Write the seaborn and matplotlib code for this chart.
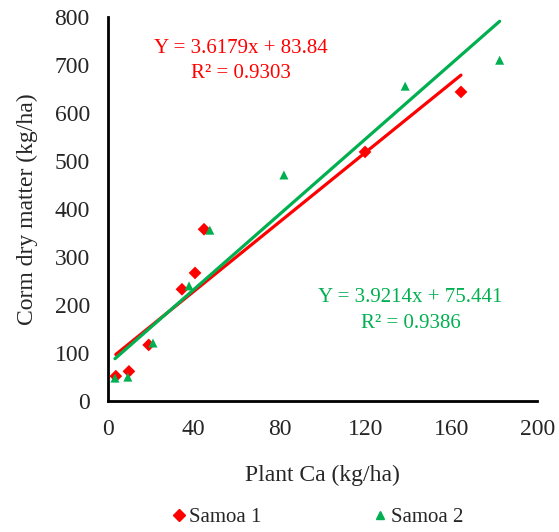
"""Corm dry matter vs plant Ca with linear fits for two cultivars."""

import numpy as np
import pandas as pd
import matplotlib
matplotlib.use("Agg")
import matplotlib.pyplot as plt
import seaborn as sns

# Samoa 1 (red diamonds)
ca_s1   = [3.7, 9.8, 19.0, 34.5, 40.6, 44.8, 119.8, 164.5]
corm_s1 = [52, 62, 117, 233, 267, 358, 519, 644]
# Samoa 2 (green triangles)
ca_s2   = [3.3, 9.3, 21.0, 37.8, 47.5, 82.0, 138.5, 182.5]
corm_s2 = [48, 50, 121, 240, 356, 471, 656, 710]

SERIES  = ["Samoa 1", "Samoa 2"]
SLOPES  = [3.6179, 3.9214]
INTERC  = [83.84, 75.441]
R2      = [0.9303, 0.9386]
EQ_TXT  = ["Y = 3.6179x + 83.84", "Y = 3.9214x + 75.441"]
COLORS  = {"Samoa 1": "#ff0000", "Samoa 2": "#00b050"}
MARKERS = {"Samoa 1": "D", "Samoa 2": "^"}

sns.set_style("white")
plt.rcParams["font.family"] = ["Liberation Serif", "DejaVu Serif"]

df = pd.DataFrame({
    "ca": ca_s1 + ca_s2,
    "corm": corm_s1 + corm_s2,
    "serie": ["Samoa 1"] * len(ca_s1) + ["Samoa 2"] * len(ca_s2),
})

fig = plt.figure(figsize=(5.59, 5.32), dpi=100)
ax = fig.add_axes([0.193, 0.246, 0.768, 0.722])

# fitted lines from the reported equations
fits = []
for name, m, b in zip(SERIES, SLOPES, INTERC):
    sub = df[df["serie"] == name]
    xs = np.array([sub["ca"].min(), sub["ca"].max()])
    fits.append(pd.DataFrame({"ca": xs, "corm": m * xs + b, "serie": name}))
fit_df = pd.concat(fits, ignore_index=True)
sns.lineplot(data=fit_df, x="ca", y="corm", hue="serie", palette=COLORS,
             linewidth=2.3, legend=False, ax=ax, zorder=2)

sns.scatterplot(data=df, x="ca", y="corm", hue="serie", style="serie",
                palette=COLORS, markers=MARKERS, s=42, edgecolor="none",
                legend=False, ax=ax, zorder=3)

ax.set_xlim(0, 200)
ax.set_ylim(0, 800)
ax.set_xticks(range(0, 201, 40))
ax.set_yticks(range(0, 801, 100))
ax.tick_params(axis="both", which="major", direction="out", length=7,
               width=1.8, labelsize=17, color="black", pad=6)
for side in ["top", "right"]:
    ax.spines[side].set_visible(False)
for side in ["left", "bottom"]:
    ax.spines[side].set_linewidth(2.0)
    ax.spines[side].set_color("black")
ax.set_xlabel("Plant Ca (kg/ha)", fontsize=17, labelpad=18)
ax.set_ylabel("Corm dry matter (kg/ha)", fontsize=17, labelpad=12)

ax.text(62, 735, EQ_TXT[0], color=COLORS["Samoa 1"], fontsize=15, ha="center", va="center")
ax.text(62, 683, f"R² = {R2[0]:.4f}", color=COLORS["Samoa 1"], fontsize=15, ha="center", va="center")
ax.text(141, 215, EQ_TXT[1], color=COLORS["Samoa 2"], fontsize=15, ha="center", va="center")
ax.text(141, 162, f"R² = {R2[1]:.4f}", color=COLORS["Samoa 2"], fontsize=15, ha="center", va="center")

handles = [plt.Line2D([], [], linestyle="none", marker=MARKERS[n], color=COLORS[n],
                      markersize=6) for n in SERIES]
fig.legend(handles, SERIES, loc="center", bbox_to_anchor=(0.565, 0.028), ncol=2,
           frameon=False, fontsize=15, handletextpad=0.0, columnspacing=5.2,
           handlelength=1.0)

fig.savefig("out.png", dpi=100)
